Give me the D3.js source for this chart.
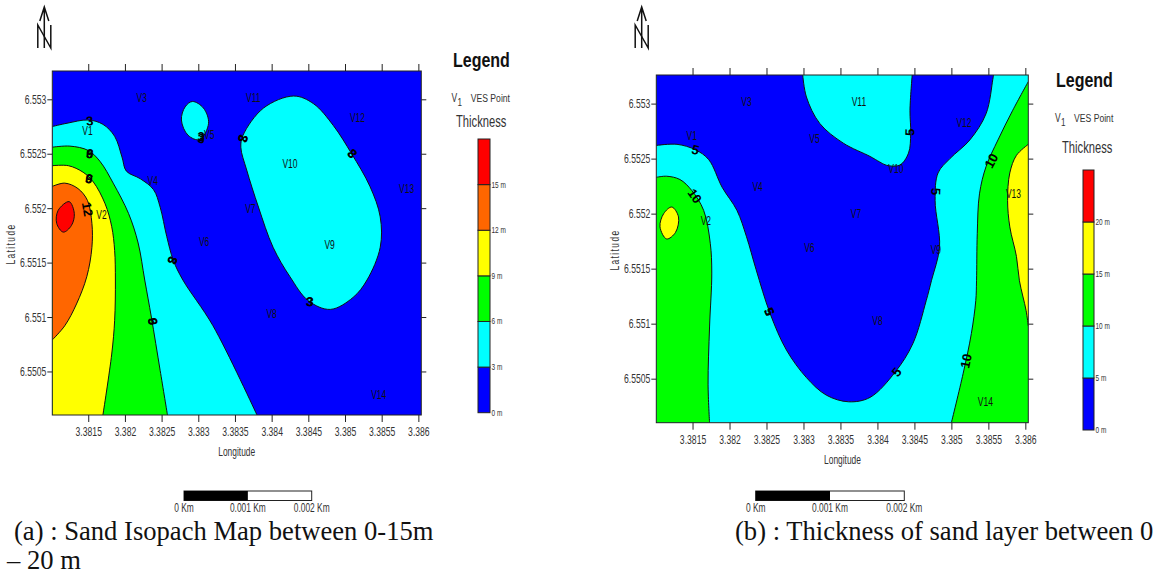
<!DOCTYPE html>
<html>
<head>
<meta charset="utf-8">
<script src="https://cdn.jsdelivr.net/npm/d3@7"></script>
<style>
    html, body { margin: 0; padding: 0; background: #fff; overflow: hidden; }
    text { font-family: "Liberation Sans", sans-serif; fill: #333; }
    .caption { font-family: "Liberation Serif", serif; font-size: 26.6px; fill: #111; }
    .tick line { stroke: #222; }
</style>
</head>
<body>
<svg id="chart" width="1160" height="575"></svg>
<script>
const lonDomain = [3.38101, 3.38604];
const latDomain = [6.5501, 6.55326];
const lonTicks = [3.3815, 3.382, 3.3825, 3.383, 3.3835, 3.384, 3.3845, 3.385, 3.3855, 3.386];
const latTicks = [6.5505, 6.551, 6.5515, 6.552, 6.5525, 6.553];

const stations = [
    ["V1", 3.38149, 6.55271], ["V2", 3.38168, 6.55194], ["V3", 3.38223, 6.55302],
    ["V4", 3.38238, 6.55225], ["V5", 3.38315, 6.55268], ["V6", 3.38308, 6.55169],
    ["V7", 3.38371, 6.552], ["V8", 3.384, 6.55103], ["V9", 3.38479, 6.55167],
    ["V10", 3.38425, 6.55241], ["V11", 3.38375, 6.55302], ["V12", 3.38517, 6.55283],
    ["V13", 3.38584, 6.55218], ["V14", 3.38546, 6.55029]
];

// map (a) contours, [lon, lat]
const a3West = [[3.38101,6.55275],[3.38121,6.55278],[3.3815,6.55281],[3.3817,6.55277],[3.38186,6.55266],[3.38196,6.55247],[3.38202,6.55234],[3.38221,6.55227],[3.38239,6.55217],[3.38248,6.55201],[3.38257,6.55174],[3.38266,6.55152],[3.38279,6.55134],[3.3832,6.55092],[3.3838,6.5501]];
const a3Small = [[3.38292,6.55298],[3.38307,6.55292],[3.38314,6.55278],[3.38302,6.55263],[3.38286,6.55267],[3.38277,6.55281],[3.38282,6.55293]];
const a3Big = [[3.3843,6.55303],[3.38457,6.55296],[3.38484,6.55276],[3.38509,6.5525],[3.38534,6.5522],[3.38548,6.55192],[3.38548,6.55164],[3.3853,6.55134],[3.38511,6.55118],[3.3848,6.55107],[3.3845,6.55115],[3.38425,6.55137],[3.38402,6.55164],[3.38382,6.55201],[3.38366,6.55235],[3.38358,6.55256],[3.38361,6.55267],[3.38389,6.55292]];
const a6 = [[3.38101,6.55256],[3.38125,6.55257],[3.3815,6.55253],[3.38166,6.55243],[3.38184,6.55223],[3.38205,6.55195],[3.38218,6.55168],[3.38227,6.55134],[3.38236,6.5510],[3.38248,6.55051],[3.38258,6.5501]];
const a9 = [[3.38101,6.55239],[3.38123,6.55239],[3.38143,6.55233],[3.38157,6.55224],[3.38173,6.55204],[3.38182,6.55183],[3.38186,6.55161],[3.38187,6.55134],[3.38186,6.55097],[3.38182,6.55066],[3.3817,6.5501]];
const a12 = [[3.38101,6.5522],[3.38118,6.55223],[3.38136,6.55218],[3.38149,6.55207],[3.38155,6.55186],[3.38155,6.55164],[3.38148,6.55137],[3.38134,6.55112],[3.38118,6.55092],[3.38101,6.55079]];
const a15 = [[3.38124,6.55206],[3.38131,6.55195],[3.38127,6.55184],[3.38116,6.55178],[3.38107,6.55186],[3.38109,6.55198]];

// map (b) contours
const b5West = [[3.38101,6.55262],[3.38129,6.55263],[3.38154,6.55258],[3.38172,6.55249],[3.3819,6.55224],[3.3821,6.55203],[3.38223,6.55179],[3.38236,6.55149],[3.38255,6.55109],[3.38277,6.55076],[3.38304,6.55051],[3.38331,6.55035],[3.38361,6.55029],[3.3839,6.55033],[3.38424,6.55056],[3.38448,6.55082],[3.38466,6.55121],[3.38473,6.55139],[3.38484,6.5517],[3.38478,6.55212],[3.38482,6.55237],[3.38498,6.5525],[3.38525,6.55267],[3.38547,6.55291],[3.38556,6.55322],[3.38557,6.55326]];
const b5North = [[3.38447,6.55326],[3.38444,6.55294],[3.38445,6.55273],[3.38442,6.55255],[3.3843,6.55244],[3.38412,6.55244],[3.38403,6.55247],[3.3839,6.55252],[3.38354,6.55264],[3.38322,6.55282],[3.38304,6.55306],[3.38299,6.55326]];
const b10West = [[3.38101,6.55233],[3.38115,6.55234],[3.38133,6.55231],[3.38149,6.55221],[3.38165,6.55203],[3.38174,6.55173],[3.38176,6.55146],[3.38173,6.55097],[3.38171,6.55045],[3.38173,6.5501]];
const b10East = [[3.38604,6.5532],[3.38583,6.55294],[3.38563,6.55267],[3.38547,6.55243],[3.38538,6.55218],[3.38535,6.55182],[3.38534,6.55139],[3.38533,6.55121],[3.38527,6.55091],[3.38516,6.55055],[3.385,6.5501]];
const b15Small = [[3.38122,6.55206],[3.38131,6.55197],[3.38127,6.55183],[3.38115,6.55177],[3.38106,6.55188],[3.38111,6.552]];
const b15East = [[3.38604,6.55263],[3.38588,6.55253],[3.38579,6.55237],[3.38576,6.55212],[3.38579,6.55188],[3.38588,6.55161],[3.38592,6.55139],[3.38601,6.55112],[3.38604,6.55098]];

// contour labels: value, lon, lat, rotation (some are printed twice in the source map)
const aLabels = [
    ["3",3.38152,6.5528,-5],["6",3.38152,6.5525,10],["6",3.38152,6.5525,190],["9",3.38151,6.55227,15],["9",3.38151,6.55227,195],["12",3.38149,6.55199,80],
    ["3",3.38265,6.55152,-70],["3",3.38265,6.55152,110],["6",3.38238,6.55096,85],["6",3.38238,6.55096,265],["3",3.38304,6.55266,0],["3",3.38304,6.55264,4],["3",3.38361,6.55264,-75],["3",3.38361,6.55264,105],
    ["3",3.3851,6.5525,-130],["3",3.3851,6.5525,50],["3",3.38452,6.55114,10],["3",3.38452,6.55114,-5]
];
const bLabels = [
    ["5",3.38154,6.55258,15],["10",3.38153,6.55216,55],["5",3.38254,6.55111,65],["5",3.38254,6.55111,245],["5",3.38444,6.55274,-88],
    ["5",3.38479,6.5522,92],["10",3.38554,6.55248,-62],["5",3.38426,6.55056,-50],["10",3.3852,6.55066,-78]
];

const aStops = [0, 3, 6, 9, 12, 15, 18];
const aColors = ["#0000ff", "#00ffff", "#00ff00", "#ffff00", "#ff6600", "#ff0000"];
const bStops = [0, 5, 10, 15, 20, 25];
const bColors = ["#0000ff", "#00ffff", "#00ff00", "#ffff00", "#ff0000"];
const scaleKm = [0, 0.001, 0.002];

const svg = d3.select("#chart");

// the source map uses a condensed sans, none installed so squeeze horizontally
function narrow(sel, k) {
    sel.each(function () {
        const t = d3.select(this);
        const x = +t.attr("x") || 0, y = +t.attr("y") || 0;
        const tr = t.attr("transform") || "";
        t.attr("x", 0).attr("y", 0).attr("transform", `${tr} translate(${x},${y}) scale(${k},1)`);
    });
    return sel;
}

function drawMap(cfg) {
    const x = d3.scaleLinear().domain(lonDomain).range([cfg.left, cfg.right]);
    const y = d3.scaleLinear().domain(latDomain).range([cfg.bottom, cfg.top]);
    const openLine = d3.line().x(d => x(d[0])).y(d => y(d[1])).curve(d3.curveCatmullRom.alpha(0.5));
    const closedLine = d3.line().x(d => x(d[0])).y(d => y(d[1])).curve(d3.curveCatmullRomClosed.alpha(0.5));

    const g = svg.append("g");
    g.append("clipPath").attr("id", cfg.id).append("rect")
        .attr("x", cfg.left).attr("y", cfg.top)
        .attr("width", cfg.right - cfg.left).attr("height", cfg.bottom - cfg.top);
    const plot = g.append("g").attr("clip-path", `url(#${cfg.id})`);

    plot.append("rect")
        .attr("x", cfg.left).attr("y", cfg.top)
        .attr("width", cfg.right - cfg.left).attr("height", cfg.bottom - cfg.top)
        .attr("fill", cfg.background);

    // fills first, corners close them along the frame
    cfg.regions.forEach(r => {
        let d;
        if (r.closed) {
            d = closedLine(r.parts[0]);
        } else {
            d = r.parts.map((p, i) => i == 0 ? openLine(p) : openLine(p).replace(/^M/, "L")).join("");
            d += (r.corners || []).map(c => `L${x(c[0])},${y(c[1])}`).join("") + "Z";
        }
        plot.append("path").attr("d", d).attr("fill", r.color);
        r.parts.forEach(p => {
            plot.append("path")
                .attr("d", r.closed ? closedLine(p) : openLine(p))
                .attr("fill", "none").attr("stroke", "#111").attr("stroke-width", 1);
        });
    });

    plot.selectAll(".station")
        .data(stations)
        .enter()
        .append("text")
        .attr("class", "station")
        .attr("x", d => x(d[1]))
        .attr("y", d => y(d[2]) + 4.5)
        .attr("text-anchor", "middle")
        .attr("font-size", 12.5)
        .style("fill", "#111")
        .text(d => d[0])
        .call(narrow, 0.68);

    plot.selectAll(".clabel")
        .data(cfg.labels)
        .enter()
        .append("text")
        .attr("class", "clabel")
        .attr("transform", d => `translate(${x(d[1])},${y(d[2])}) rotate(${d[3]})`)
        .attr("dy", 4.5)
        .attr("text-anchor", "middle")
        .attr("font-weight", "bold")
        .attr("font-size", 13)
        .style("fill", "#000")
        .text(d => d[0]);

    g.append("rect")
        .attr("x", cfg.left).attr("y", cfg.top)
        .attr("width", cfg.right - cfg.left).attr("height", cfg.bottom - cfg.top)
        .attr("fill", "none").attr("stroke", "#222").attr("stroke-width", 1);

    const bottomAxis = d3.axisBottom(x).tickValues(lonTicks).tickFormat(d => d).tickSize(7).tickPadding(5).tickSizeOuter(0);
    const topAxis = d3.axisTop(x).tickValues(lonTicks).tickFormat("").tickSize(7).tickSizeOuter(0);
    const leftAxis = d3.axisLeft(y).tickValues(latTicks).tickFormat(d => d).tickSize(5).tickPadding(1).tickSizeOuter(0);
    const rightAxis = d3.axisRight(y).tickValues(latTicks).tickFormat("").tickSize(5).tickSizeOuter(0);

    [[bottomAxis, 0, cfg.bottom], [topAxis, 0, cfg.top], [leftAxis, cfg.left, 0], [rightAxis, cfg.right, 0]].forEach(a => {
        const ax = g.append("g").attr("transform", `translate(${a[1]},${a[2]})`).call(a[0])
            .attr("font-family", null).attr("font-size", null);
        ax.select(".domain").remove();
        ax.selectAll("text").attr("font-size", 12.5).call(narrow, 0.69);
    });

    g.append("text")
        .attr("x", cfg.lonLabel[0]).attr("y", cfg.lonLabel[1])
        .attr("text-anchor", "middle").attr("font-size", 12).text("Longitude").call(narrow, 0.7);
    g.append("text")
        .attr("transform", `translate(${cfg.latLabel[0]},${cfg.latLabel[1]}) rotate(-90)`)
        .attr("text-anchor", "middle").attr("font-size", 12).attr("letter-spacing", 2).text("Latitude").call(narrow, 0.7);

    // north arrow
    const arrow = g.append("g").attr("transform", `translate(${cfg.north},0)`)
        .attr("fill", "none").attr("stroke", "#111");
    arrow.append("path").attr("stroke-width", 1.5).attr("d", "M0,7V48M-4.5,21L0,7L4.5,21");
    arrow.append("path").attr("stroke-width", 1.5).attr("d", "M-6.5,48V25L6.5,48V25");

    // legend
    const lg = cfg.legend;
    g.append("text").attr("x", lg.title[0]).attr("y", lg.title[1])
        .attr("font-size", 20).attr("font-weight", "bold").style("fill", "#111").text("Legend").call(narrow, 0.8);
    g.append("text").attr("x", lg.v1[0]).attr("y", lg.v1[1]).attr("font-size", 12.5).text("V").call(narrow, 0.68);
    g.append("text").attr("x", lg.v1[0] + 6).attr("y", lg.v1[1] + 4).attr("font-size", 11).text("1").call(narrow, 0.74);
    g.append("text").attr("x", lg.ves[0]).attr("y", lg.ves[1]).attr("font-size", 11.5).text("VES Point").call(narrow, 0.75);
    g.append("text").attr("x", lg.thick[0]).attr("y", lg.thick[1]).attr("font-size", 16).text("Thickness").call(narrow, 0.7);

    const c = d3.scaleLinear().domain(d3.extent(lg.stops)).range([lg.barBottom, lg.barTop]);
    g.selectAll(".band")
        .data(lg.colors)
        .enter()
        .append("rect")
        .attr("x", lg.barX)
        .attr("y", (d, i) => c(lg.stops[i + 1]))
        .attr("width", lg.barW)
        .attr("height", (d, i) => c(lg.stops[i]) - c(lg.stops[i + 1]))
        .attr("fill", d => d)
        .attr("stroke", "#222")
        .attr("stroke-width", 1);
    g.selectAll(".bandlabel")
        .data(lg.stops.slice(0, -1))
        .enter()
        .append("text")
        .attr("x", lg.barX + lg.barW + 1.5)
        .attr("y", d => c(d) + 3)
        .attr("font-size", 9)
        .text(d => d + " m")
        .call(narrow, 0.72);

    // scale bar
    const s = cfg.scaleBar;
    const km = d3.scaleLinear().domain([0, 0.002]).range([s.x0, s.x1]);
    g.append("rect").attr("x", km(0)).attr("y", s.y)
        .attr("width", km(0.002) - km(0)).attr("height", 9.5)
        .attr("fill", "#fff").attr("stroke", "#222");
    g.append("rect").attr("x", km(0)).attr("y", s.y)
        .attr("width", km(0.001) - km(0)).attr("height", 9.5).attr("fill", "#000");
    g.selectAll(".kmlabel")
        .data(scaleKm)
        .enter()
        .append("text")
        .attr("x", d => km(d))
        .attr("y", s.y + 21)
        .attr("text-anchor", "middle")
        .attr("font-size", 12)
        .text(d => d + " Km")
        .call(narrow, 0.7);

    g.append("text").attr("class", "caption")
        .attr("x", cfg.caption[0]).attr("y", cfg.caption[1]).text(cfg.captionText);
}

drawMap({
    id: "clipA", left: 52.3, right: 421.3, top: 71, bottom: 415, background: "#0000ff",
    regions: [
        { parts: [a3West], corners: [[lonDomain[0], latDomain[0]]], color: "#00ffff" },
        { parts: [a3Small], closed: true, color: "#00ffff" },
        { parts: [a3Big], closed: true, color: "#00ffff" },
        { parts: [a6], corners: [[lonDomain[0], latDomain[0]]], color: "#00ff00" },
        { parts: [a9], corners: [[lonDomain[0], latDomain[0]]], color: "#ffff00" },
        { parts: [a12], color: "#ff6600" },
        { parts: [a15], closed: true, color: "#ff0000" }
    ],
    labels: aLabels,
    lonLabel: [236.7, 455.7], latLabel: [15, 244], north: 44.3,
    legend: {
        title: [453, 67], v1: [451.5, 102], ves: [470.7, 102], thick: [456, 127],
        stops: aStops, colors: aColors, barX: 478, barW: 12, barTop: 139, barBottom: 412.7
    },
    scaleBar: { x0: 184, x1: 311.7, y: 491 },
    caption: [14, 540], captionText: "(a) : Sand Isopach Map between 0-15m"
});

drawMap({
    id: "clipB", left: 656.3, right: 1028.3, top: 75, bottom: 422.7, background: "#00ffff",
    regions: [
        { parts: [b5West, b5North], corners: [[lonDomain[0], latDomain[1]]], color: "#0000ff" },
        { parts: [b10West], corners: [[lonDomain[0], latDomain[0]]], color: "#00ff00" },
        { parts: [b10East], corners: [[lonDomain[1], latDomain[0]]], color: "#00ff00" },
        { parts: [b15Small], closed: true, color: "#ffff00" },
        { parts: [b15East], color: "#ffff00" }
    ],
    labels: bLabels,
    lonLabel: [842.5, 464], latLabel: [619, 250], north: 641.7,
    legend: {
        title: [1056, 87], v1: [1055, 122], ves: [1074, 122], thick: [1062, 153],
        stops: bStops, colors: bColors, barX: 1083, barW: 11, barTop: 170, barBottom: 430
    },
    scaleBar: { x0: 755.7, x1: 904.3, y: 491 },
    caption: [735, 540], captionText: "(b) : Thickness of sand layer between 0"
});

svg.append("text").attr("class", "caption").attr("x", 7).attr("y", 569).text("– 20 m");
</script>
</body>
</html>
